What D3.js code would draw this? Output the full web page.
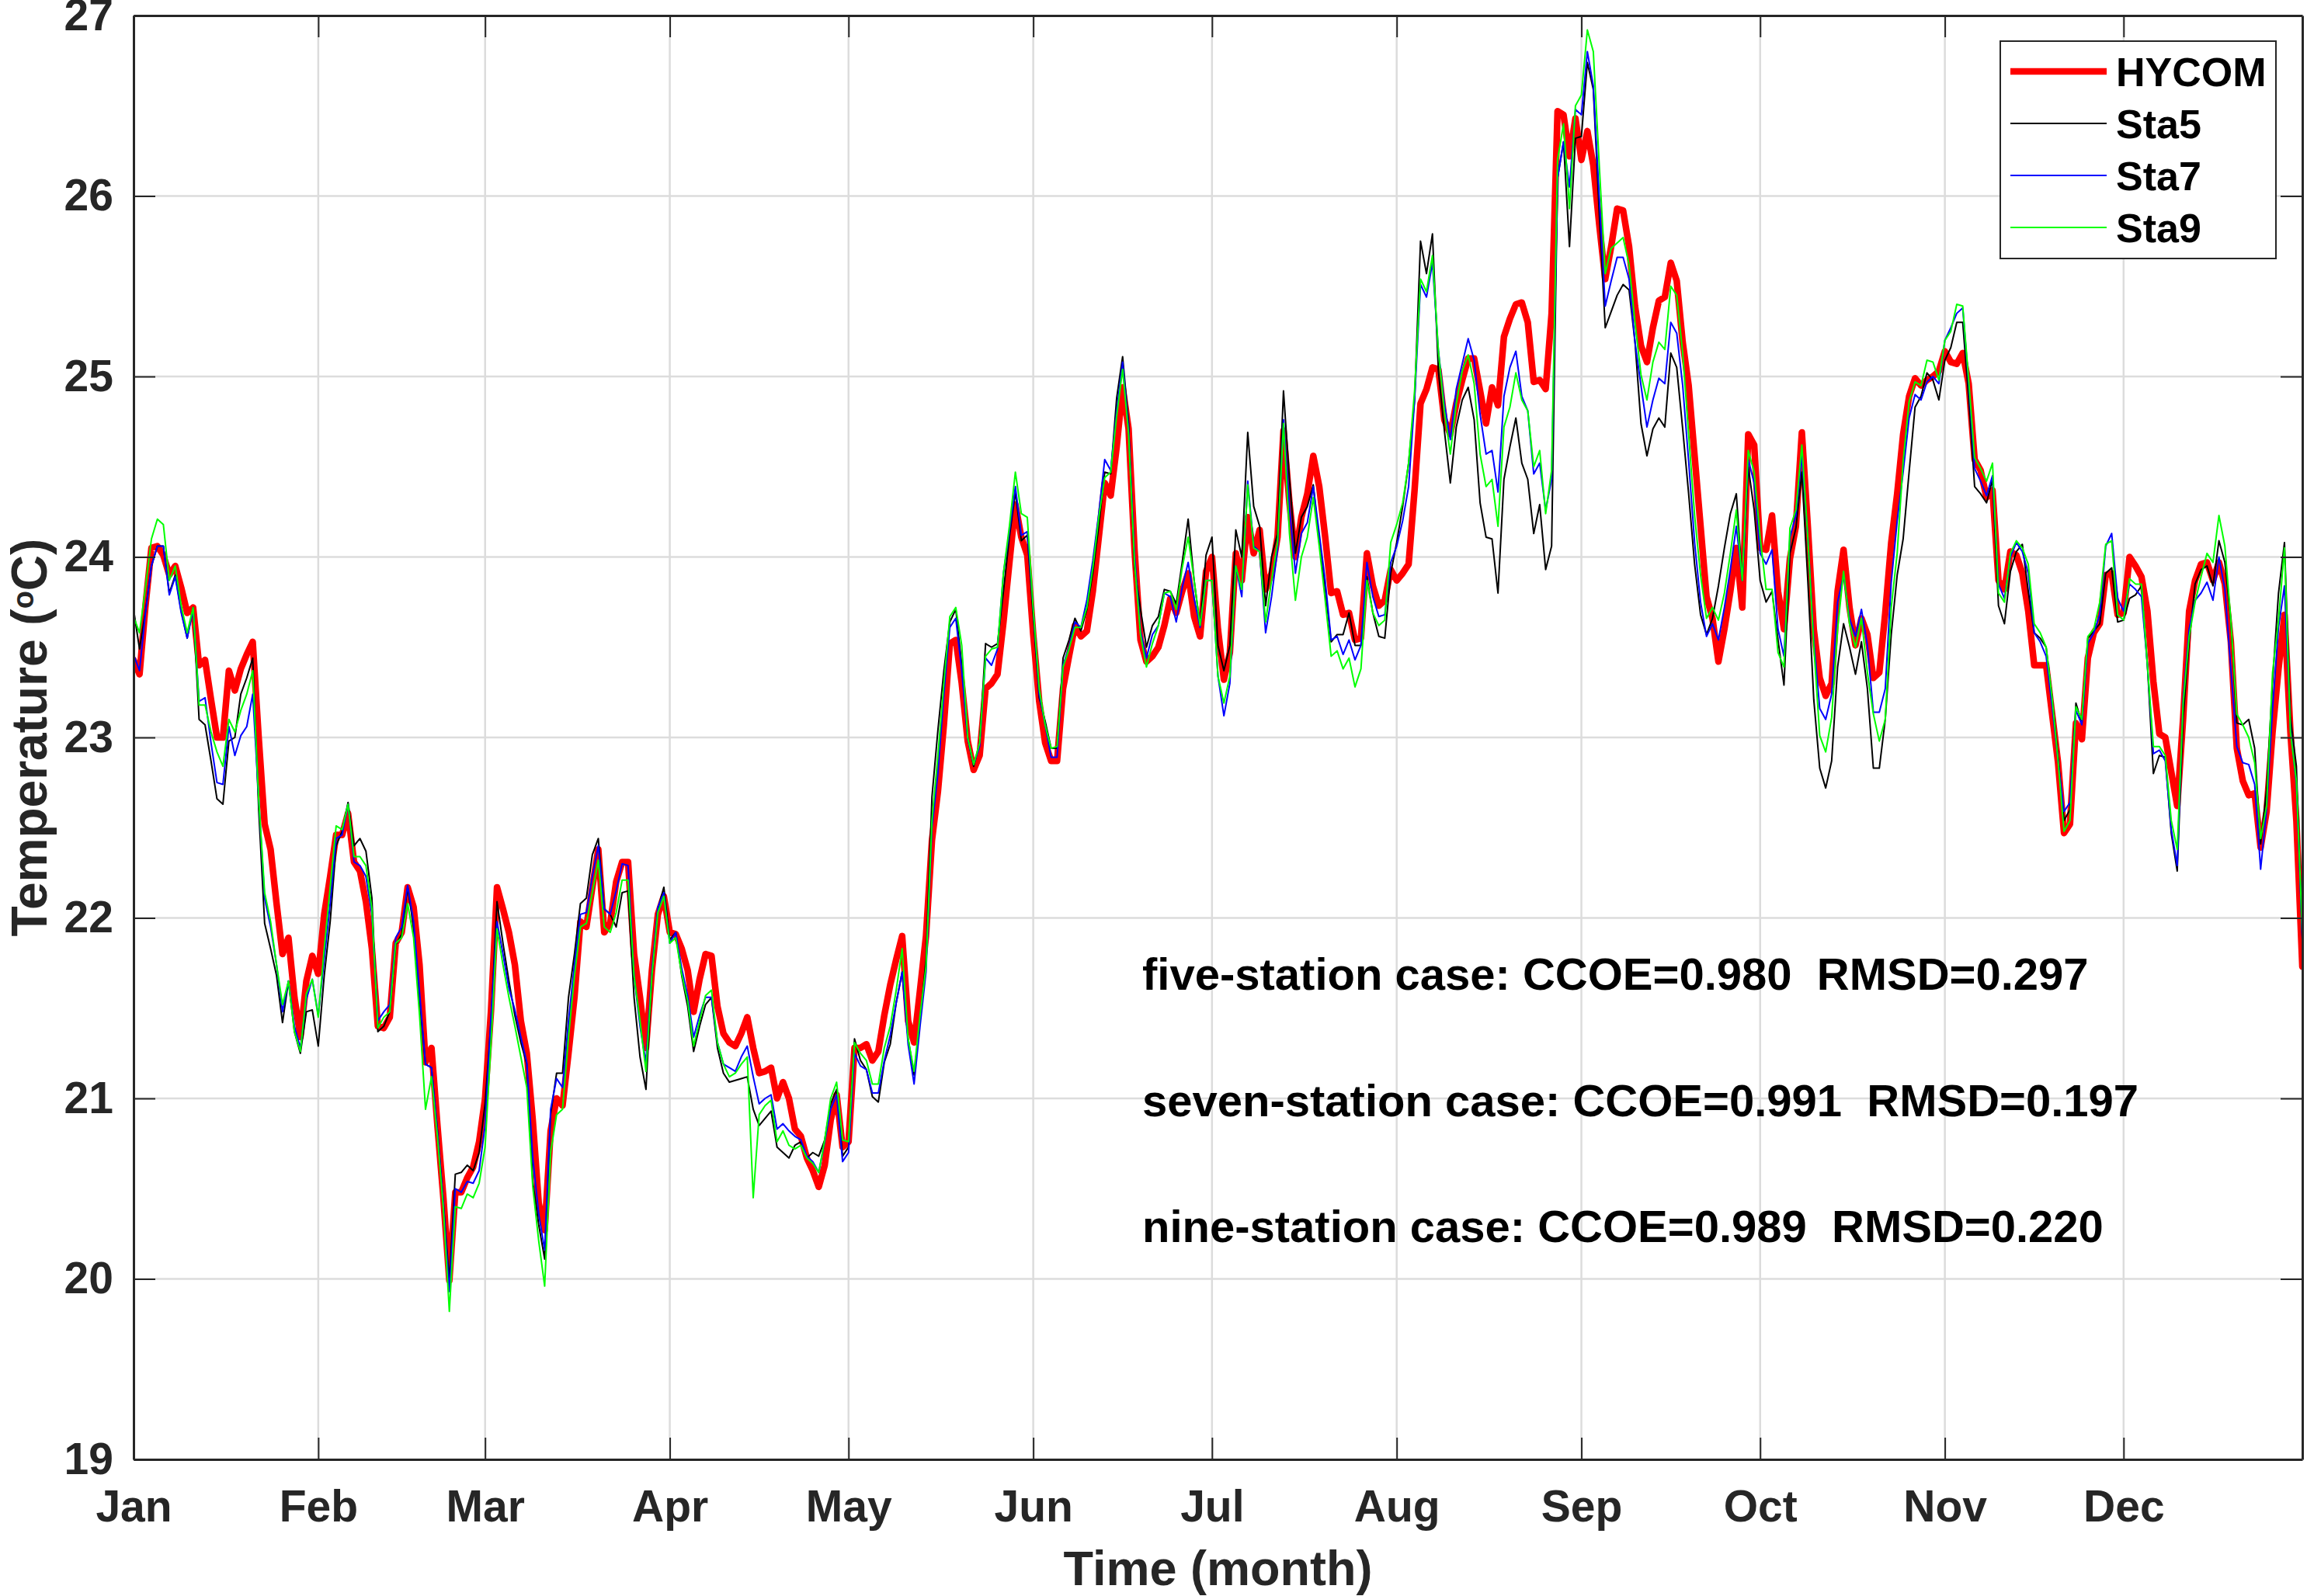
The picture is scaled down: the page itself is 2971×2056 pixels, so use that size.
<!DOCTYPE html>
<html>
<head>
<meta charset="utf-8">
<script src="https://cdn.jsdelivr.net/npm/d3@7"></script>
<style>
  html, body { margin: 0; padding: 0; background: #fff; }
  svg { display: block; font-family: 'Liberation Sans', Arial, Helvetica, sans-serif; font-weight: bold; }
</style>
</head>
<body>
<svg id="chart" width="2971" height="2056"></svg>
<script>
// month ticks (day of year) and labels
var months = ['Jan', 'Feb', 'Mar', 'Apr', 'May', 'Jun', 'Jul', 'Aug', 'Sep', 'Oct', 'Nov', 'Dec']
var monthStart = [0, 31, 59, 90, 120, 151, 181, 212, 243, 273, 304, 334]
var yTicks = [19, 20, 21, 22, 23, 24, 25, 26, 27]

var seriesNames = ['HYCOM', 'Sta5', 'Sta7', 'Sta9']
var seriesColors = ['#ff0000', '#000000', '#0000ff', '#00ff00']

// daily temperature (day 0 = Jan 1)
var hycom = [
  23.43, 23.35, 23.73, 24.05, 24.06, 24.01, 23.90, 23.95, 23.83, 23.69,
  23.72, 23.40, 23.43, 23.21, 23.00, 23.00, 23.37, 23.26, 23.38, 23.46,
  23.53, 23.00, 22.52, 22.38, 22.08, 21.80, 21.89, 21.56, 21.34, 21.65,
  21.79, 21.69, 22.02, 22.23, 22.46, 22.46, 22.58, 22.31, 22.26, 22.09,
  21.83, 21.40, 21.39, 21.45, 21.86, 21.92, 22.17, 22.06, 21.74, 21.20,
  21.28, 20.85, 20.45, 19.99, 20.48, 20.48, 20.56, 20.62, 20.76, 21.00,
  21.49, 22.17, 22.05, 21.92, 21.74, 21.43, 21.25, 20.88, 20.42, 20.27,
  20.82, 21.00, 20.96, 21.25, 21.56, 21.98, 21.95, 22.17, 22.38, 21.92,
  21.97, 22.20, 22.31, 22.31, 21.80, 21.56, 21.28, 21.71, 22.02, 22.12,
  21.92, 21.91, 21.83, 21.71, 21.48, 21.66, 21.80, 21.79, 21.51, 21.36,
  21.31, 21.29, 21.36, 21.45, 21.28, 21.14, 21.15, 21.17, 21.00, 21.09,
  21.00, 20.83, 20.79, 20.67, 20.60, 20.51, 20.63, 20.88, 21.02, 20.73,
  20.76, 21.28, 21.28, 21.30, 21.21, 21.26, 21.46, 21.63, 21.77, 21.90,
  21.43, 21.31, 21.60, 21.90, 22.43, 22.70, 23.07, 23.52, 23.54, 23.30,
  22.98, 22.82, 22.90, 23.27, 23.30, 23.35, 23.64, 23.97, 24.29, 24.11,
  24.01, 23.57, 23.20, 22.97, 22.87, 22.87, 23.27, 23.45, 23.62, 23.56,
  23.59, 23.81, 24.11, 24.41, 24.34, 24.61, 24.94, 24.71, 24.04, 23.54,
  23.42, 23.45, 23.50, 23.62, 23.77, 23.69, 23.81, 23.91, 23.67, 23.56,
  23.92, 24.00, 23.60, 23.32, 23.47, 24.02, 23.87, 24.22, 24.02, 24.15,
  23.82, 23.91, 24.11, 24.70, 24.30, 24.00, 24.22, 24.35, 24.56, 24.39,
  24.11, 23.80, 23.81, 23.68, 23.69, 23.54, 23.55, 24.02, 23.84, 23.73,
  23.76, 23.93, 23.87, 23.91, 23.96, 24.37, 24.85, 24.93, 25.05, 25.04,
  24.76, 24.68, 24.85, 24.98, 25.10, 25.10, 24.92, 24.74, 24.94, 24.84,
  25.22, 25.32, 25.40, 25.41, 25.30, 24.97, 24.98, 24.93, 25.35, 26.47,
  26.45, 26.22, 26.43, 26.20, 26.36, 26.17, 25.84, 25.54, 25.72, 25.93,
  25.92, 25.72, 25.39, 25.17, 25.08, 25.27, 25.42, 25.44, 25.63, 25.53,
  25.19, 24.95, 24.56, 24.17, 23.78, 23.66, 23.42, 23.60, 23.81, 24.05,
  23.72, 24.68, 24.62, 24.05, 24.04, 24.23, 23.81, 23.60, 23.99, 24.17,
  24.69, 24.17, 23.60, 23.33, 23.23, 23.30, 23.81, 24.04, 23.72, 23.51,
  23.66, 23.57, 23.33, 23.36, 23.69, 24.08, 24.35, 24.68, 24.89, 24.99,
  24.95, 24.98, 25.00, 25.03, 25.14, 25.08, 25.07, 25.13, 24.96, 24.54,
  24.48, 24.33, 24.37, 23.87, 23.82, 24.03, 24.01, 23.91, 23.70, 23.40,
  23.40, 23.40, 23.13, 22.86, 22.47, 22.52, 23.08, 22.99, 23.44, 23.58,
  23.63, 23.90, 23.91, 23.68, 23.69, 24.00, 23.95, 23.89, 23.70, 23.31,
  23.02, 23.00, 22.81, 22.62, 23.11, 23.70, 23.87, 23.96, 23.97, 23.87,
  23.97, 23.85, 23.53, 22.94, 22.76, 22.68, 22.69, 22.39, 22.59, 23.03,
  23.38, 23.68, 23.03, 22.54, 21.73
]

var sta5 = [
  23.71, 23.49, 23.70, 23.95, 24.06, 24.06, 23.80, 23.90, 23.70, 23.55,
  23.72, 23.10, 23.07, 22.87, 22.66, 22.63, 22.98, 23.00, 23.24, 23.33,
  23.44, 22.60, 21.97, 21.83, 21.68, 21.42, 21.65, 21.37, 21.25, 21.48,
  21.49, 21.29, 21.68, 21.98, 22.40, 22.48, 22.64, 22.40, 22.44, 22.37,
  22.11, 21.37, 21.40, 21.48, 21.85, 21.91, 22.17, 21.95, 21.55, 21.19,
  21.17, 20.82, 20.42, 19.99, 20.58, 20.59, 20.63, 20.60, 20.70, 20.97,
  21.43, 22.09, 21.86, 21.65, 21.46, 21.31, 21.19, 20.54, 20.30, 20.11,
  20.91, 21.14, 21.14, 21.56, 21.80, 22.08, 22.11, 22.35, 22.44, 22.05,
  22.02, 21.95, 22.14, 22.15, 21.56, 21.23, 21.05, 21.68, 22.05, 22.17,
  21.88, 21.92, 21.68, 21.51, 21.26, 21.40, 21.52, 21.56, 21.28, 21.14,
  21.09, 21.10, 21.11, 21.12, 20.94, 20.85, 20.89, 20.93, 20.73, 20.70,
  20.67, 20.74, 20.76, 20.67, 20.70, 20.68, 20.77, 20.97, 21.05, 20.68,
  20.73, 21.33, 21.21, 21.16, 21.01, 20.98, 21.20, 21.30, 21.53, 21.70,
  21.33, 21.13, 21.43, 21.77, 22.67, 23.04, 23.37, 23.64, 23.71, 23.40,
  23.00, 22.84, 22.97, 23.52, 23.50, 23.52, 23.81, 24.11, 24.36, 24.09,
  24.12, 23.67, 23.22, 23.09, 22.94, 22.94, 23.44, 23.54, 23.66, 23.59,
  23.71, 23.91, 24.17, 24.47, 24.46, 24.88, 25.11, 24.74, 23.94, 23.71,
  23.50, 23.62, 23.67, 23.82, 23.81, 23.74, 23.97, 24.21, 23.87, 23.62,
  24.01, 24.11, 23.51, 23.37, 23.51, 24.15, 24.00, 24.69, 24.28, 24.17,
  23.73, 24.00, 24.13, 24.92, 24.43, 24.02, 24.22, 24.28, 24.40, 24.08,
  23.82, 23.53, 23.57, 23.57, 23.69, 23.51, 23.51, 23.89, 23.69, 23.56,
  23.55, 23.91, 24.08, 24.28, 24.52, 24.87, 25.75, 25.57, 25.79, 25.03,
  24.70, 24.41, 24.72, 24.87, 24.94, 24.76, 24.30, 24.11, 24.10, 23.80,
  24.43, 24.61, 24.77, 24.52, 24.43, 24.13, 24.29, 23.93, 24.06, 26.10,
  26.30, 25.72, 26.32, 26.33, 26.74, 26.59, 25.90, 25.27, 25.36, 25.45,
  25.51, 25.48, 25.19, 24.74, 24.56, 24.71, 24.77, 24.72, 25.13, 25.05,
  24.71, 24.35, 23.96, 23.68, 23.57, 23.66, 23.84, 24.05, 24.24, 24.35,
  23.87, 24.50, 24.26, 23.87, 23.75, 23.81, 23.54, 23.29, 24.02, 24.16,
  24.47, 23.87, 23.21, 22.83, 22.72, 22.87, 23.39, 23.63, 23.50, 23.35,
  23.53, 23.27, 22.83, 22.83, 23.10, 23.57, 23.90, 24.10, 24.47, 24.83,
  24.89, 25.02, 24.98, 24.87, 25.09, 25.16, 25.30, 25.30, 24.88, 24.39,
  24.35, 24.30, 24.43, 23.73, 23.63, 23.92, 24.03, 24.07, 23.81, 23.58,
  23.55, 23.50, 23.22, 22.89, 22.54, 22.60, 23.19, 23.08, 23.55, 23.59,
  23.63, 23.91, 23.94, 23.64, 23.65, 23.77, 23.79, 23.84, 23.40, 22.80,
  22.90, 22.89, 22.47, 22.26, 23.11, 23.53, 23.85, 23.93, 23.95, 23.84,
  24.09, 23.97, 23.65, 23.08, 23.07, 23.10, 22.94, 22.41, 22.71, 23.31,
  23.80, 24.08, 23.11, 22.84, 21.88
]

var sta7 = [
  23.46, 23.37, 23.69, 23.95, 24.06, 24.06, 23.79, 23.89, 23.69, 23.55,
  23.71, 23.20, 23.22, 22.97, 22.75, 22.74, 23.06, 22.90, 23.01, 23.06,
  23.24, 22.66, 22.11, 21.95, 21.74, 21.48, 21.65, 21.40, 21.28, 21.55,
  21.66, 21.46, 21.77, 22.08, 22.44, 22.46, 22.63, 22.31, 22.29, 22.23,
  22.02, 21.43, 21.48, 21.52, 21.89, 21.95, 22.18, 21.98, 21.59, 21.19,
  21.17, 20.82, 20.42, 19.93, 20.50, 20.48, 20.54, 20.53, 20.60, 20.85,
  21.46, 21.98, 21.80, 21.61, 21.49, 21.34, 21.20, 20.67, 20.36, 20.16,
  20.94, 21.11, 21.06, 21.43, 21.74, 22.02, 22.03, 22.23, 22.40, 22.05,
  22.02, 22.15, 22.30, 22.29, 21.68, 21.40, 21.20, 21.71, 22.06, 22.14,
  21.86, 21.92, 21.72, 21.57, 21.34, 21.46, 21.56, 21.56, 21.31, 21.19,
  21.17, 21.15, 21.23, 21.29, 21.12, 20.97, 21.00, 21.02, 20.83, 20.86,
  20.82, 20.79, 20.77, 20.68, 20.65, 20.59, 20.76, 20.94, 21.02, 20.65,
  20.70, 21.25, 21.18, 21.16, 21.03, 21.03, 21.21, 21.35, 21.53, 21.70,
  21.30, 21.08, 21.40, 21.70, 22.50, 22.80, 23.24, 23.61, 23.66, 23.37,
  22.99, 22.85, 22.95, 23.44, 23.40, 23.49, 23.91, 24.14, 24.39, 24.12,
  24.14, 23.71, 23.24, 23.07, 22.89, 22.89, 23.40, 23.50, 23.64, 23.61,
  23.76, 23.98, 24.24, 24.54, 24.48, 24.81, 25.08, 24.71, 24.01, 23.59,
  23.44, 23.57, 23.62, 23.80, 23.78, 23.64, 23.83, 23.97, 23.77, 23.61,
  23.87, 23.87, 23.34, 23.12, 23.30, 23.95, 23.78, 24.42, 24.06, 24.03,
  23.58, 23.78, 24.04, 24.76, 24.28, 23.91, 24.13, 24.19, 24.39, 24.13,
  23.87, 23.54, 23.56, 23.46, 23.54, 23.43, 23.51, 23.97, 23.78, 23.67,
  23.68, 23.97, 24.06, 24.20, 24.39, 24.87, 25.51, 25.44, 25.63, 25.14,
  24.85, 24.65, 24.93, 25.07, 25.21, 25.09, 24.79, 24.57, 24.59, 24.36,
  24.89, 25.05, 25.14, 24.89, 24.81, 24.46, 24.52, 24.26, 24.43, 26.10,
  26.30, 26.05, 26.48, 26.45, 26.80, 26.61, 25.99, 25.39, 25.53, 25.66,
  25.66, 25.54, 25.19, 24.95, 24.72, 24.87, 24.99, 24.96, 25.30, 25.24,
  24.95, 24.53, 24.08, 23.75, 23.56, 23.63, 23.54, 23.72, 23.93, 24.17,
  23.87, 24.54, 24.41, 24.02, 23.96, 24.04, 23.60, 23.45, 24.11, 24.23,
  24.56, 24.11, 23.54, 23.16, 23.10, 23.24, 23.75, 23.90, 23.66, 23.56,
  23.71, 23.51, 23.14, 23.14, 23.27, 23.86, 24.20, 24.47, 24.77, 24.90,
  24.87, 24.97, 25.00, 24.96, 25.20, 25.27, 25.35, 25.38, 24.96, 24.49,
  24.42, 24.34, 24.45, 23.85, 23.77, 24.00, 24.08, 24.03, 23.91, 23.58,
  23.53, 23.45, 23.17, 22.87, 22.59, 22.64, 23.15, 23.07, 23.52, 23.58,
  23.68, 24.06, 24.13, 23.77, 23.70, 23.85, 23.82, 23.78, 23.40, 22.91,
  22.93, 22.87, 22.49, 22.29, 23.22, 23.60, 23.76, 23.80, 23.86, 23.76,
  24.00, 23.82, 23.38, 22.95, 22.86, 22.85, 22.74, 22.27, 22.60, 23.16,
  23.61, 23.84, 23.05, 22.74, 21.88
]

var sta9 = [
  23.67, 23.58, 23.83, 24.10, 24.21, 24.18, 23.87, 23.95, 23.73, 23.58,
  23.72, 23.18, 23.18, 23.03, 22.92, 22.84, 23.10, 23.03, 23.15, 23.24,
  23.37, 22.66, 22.14, 21.98, 21.74, 21.52, 21.65, 21.37, 21.26, 21.58,
  21.66, 21.45, 21.83, 22.17, 22.51, 22.49, 22.63, 22.34, 22.34, 22.29,
  22.05, 21.39, 21.45, 21.48, 21.86, 21.89, 22.08, 21.89, 21.46, 20.94,
  21.12, 20.79, 20.39, 19.82, 20.40, 20.39, 20.47, 20.45, 20.53, 20.73,
  21.31, 21.94, 21.74, 21.56, 21.40, 21.23, 21.06, 20.51, 20.21, 19.96,
  20.70, 20.91, 20.94, 21.34, 21.68, 21.95, 21.97, 22.14, 22.32, 21.95,
  21.92, 22.03, 22.21, 22.21, 21.68, 21.43, 21.15, 21.68, 22.03, 22.12,
  21.86, 21.89, 21.69, 21.54, 21.29, 21.43, 21.57, 21.60, 21.31, 21.19,
  21.12, 21.14, 21.19, 21.23, 20.45, 20.91, 20.96, 20.99, 20.76, 20.82,
  20.74, 20.72, 20.74, 20.67, 20.64, 20.59, 20.77, 21.00, 21.09, 20.77,
  20.76, 21.31, 21.25, 21.21, 21.08, 21.08, 21.28, 21.40, 21.60, 21.83,
  21.33, 21.15, 21.46, 21.73, 22.54, 22.90, 23.30, 23.67, 23.72, 23.51,
  23.00, 22.85, 22.97, 23.45, 23.49, 23.50, 23.91, 24.17, 24.47, 24.24,
  24.22, 23.71, 23.27, 23.07, 22.94, 22.95, 23.39, 23.49, 23.61, 23.61,
  23.72, 23.94, 24.22, 24.44, 24.47, 24.78, 25.04, 24.68, 23.97, 23.57,
  23.39, 23.52, 23.62, 23.80, 23.81, 23.71, 23.94, 24.11, 23.87, 23.62,
  23.87, 23.87, 23.34, 23.19, 23.34, 23.95, 23.82, 24.40, 24.05, 24.03,
  23.64, 23.87, 24.08, 24.74, 24.13, 23.76, 24.00, 24.11, 24.33, 24.06,
  23.76, 23.45, 23.48, 23.38, 23.44, 23.28, 23.38, 23.87, 23.69, 23.62,
  23.65, 24.08, 24.18, 24.30, 24.52, 24.92, 25.54, 25.47, 25.67, 25.14,
  24.81, 24.57, 24.85, 25.03, 25.12, 24.96, 24.57, 24.39, 24.43, 24.17,
  24.72, 24.83, 25.02, 24.87, 24.81, 24.50, 24.59, 24.24, 24.48, 26.20,
  26.40, 25.93, 26.50, 26.56, 26.92, 26.80, 26.17, 25.57, 25.71, 25.74,
  25.77, 25.62, 25.30, 25.01, 24.87, 25.08, 25.19, 25.15, 25.50, 25.45,
  25.13, 24.68, 24.23, 23.90, 23.66, 23.72, 23.65, 23.80, 24.02, 24.26,
  23.87, 24.59, 24.47, 24.11, 23.82, 23.82, 23.47, 23.39, 24.16, 24.26,
  24.62, 24.11, 23.51, 23.01, 22.92, 23.11, 23.60, 23.92, 23.63, 23.50,
  23.66, 23.36, 23.13, 22.98, 23.10, 23.72, 24.02, 24.53, 24.86, 24.97,
  24.95, 25.09, 25.08, 24.98, 25.20, 25.25, 25.40, 25.39, 24.98, 24.55,
  24.49, 24.42, 24.52, 23.80, 23.75, 24.02, 24.09, 24.05, 23.96, 23.63,
  23.58, 23.50, 23.22, 22.87, 22.48, 22.54, 23.17, 23.10, 23.56, 23.60,
  23.75, 24.07, 24.09, 23.68, 23.65, 23.88, 23.85, 23.85, 23.40, 22.95,
  22.95, 22.90, 22.54, 22.38, 23.19, 23.56, 23.75, 23.89, 24.02, 23.97,
  24.23, 24.06, 23.65, 23.13, 23.07, 23.00, 22.86, 22.44, 22.62, 23.36,
  23.65, 24.05, 23.03, 22.76, 21.92
]

var statLines = [
  'five-station case: CCOE=0.980  RMSD=0.297',
  'seven-station case: CCOE=0.991  RMSD=0.197',
  'nine-station case: CCOE=0.989  RMSD=0.220'
]

var allSeries = [hycom, sta5, sta7, sta9]
var lineWidths = [8.5, 2, 2, 2]

// Set the dimensions of the canvas / graph
var margin = {top: 20, right: 6, bottom: 176, left: 172}
var width = 2971 - margin.left - margin.right
var height = 2056 - margin.top - margin.bottom
var axisColor = '#262626'

var svg = d3.select('#chart')
var g = svg.append('g')
  .attr('transform', 'translate(' + margin.left + ',' + margin.top + ')')

// scales
var x = d3.scaleLinear().domain([0, 364]).range([0, width])
var y = d3.scaleLinear().domain([19, 27]).range([height, 0])

// grid lines
g.append('g').selectAll('line.vg')
  .data(monthStart.slice(1))
  .enter().append('line')
  .attr('x1', function (d) { return x(d) })
  .attr('x2', function (d) { return x(d) })
  .attr('y1', 0)
  .attr('y2', height)
  .attr('stroke', '#dcdcdc')
  .attr('stroke-width', 2.5)

g.append('g').selectAll('line.hg')
  .data(yTicks.slice(1, -1))
  .enter().append('line')
  .attr('x1', 0)
  .attr('x2', width)
  .attr('y1', function (d) { return y(d) })
  .attr('y2', function (d) { return y(d) })
  .attr('stroke', '#dcdcdc')
  .attr('stroke-width', 2.5)

// clip for the series
svg.append('defs').append('clipPath')
  .attr('id', 'plotclip')
  .append('rect')
  .attr('width', width)
  .attr('height', height)

var lineGen = d3.line()
  .x(function (d, i) { return x(i) })
  .y(function (d) { return y(d) })

var linesG = g.append('g').attr('clip-path', 'url(#plotclip)')
allSeries.forEach(function (s, k) {
  linesG.append('path')
    .attr('d', lineGen(s))
    .attr('fill', 'none')
    .attr('stroke', seriesColors[k])
    .attr('stroke-width', lineWidths[k])
    .attr('stroke-linejoin', 'round')
    .attr('stroke-linecap', 'round')
})

// axes, ticks pointing inward on all four sides
var xAxisG = g.append('g')
  .attr('transform', 'translate(0,' + height + ')')
  .call(d3.axisBottom(x)
    .tickValues(monthStart)
    .tickFormat(function (d, i) { return months[i] })
    .tickSizeInner(-28).tickSizeOuter(0).tickPadding(40))

var yAxisG = g.append('g')
  .call(d3.axisLeft(y)
    .tickValues(yTicks)
    .tickFormat(d3.format('d'))
    .tickSizeInner(-28).tickSizeOuter(0).tickPadding(26))

var topAxisG = g.append('g')
  .call(d3.axisTop(x).tickValues(monthStart).tickFormat('')
    .tickSizeInner(-28).tickSizeOuter(0))

var rightAxisG = g.append('g')
  .attr('transform', 'translate(' + width + ',0)')
  .call(d3.axisRight(y).tickValues(yTicks).tickFormat('')
    .tickSizeInner(-28).tickSizeOuter(0))

;[xAxisG, yAxisG, topAxisG, rightAxisG].forEach(function (a) {
  a.select('.domain').attr('stroke', axisColor).attr('stroke-width', 3)
  a.selectAll('.tick line').attr('stroke', axisColor).attr('stroke-width', 2)
  a.selectAll('.tick text')
    .attr('fill', axisColor)
    .style('font-size', '57px')
    .style('font-weight', 'bold')
    .style('font-family', "'Liberation Sans', Arial, sans-serif")
})

// axis titles
svg.append('text')
  .attr('x', margin.left + width / 2)
  .attr('y', 2042)
  .attr('text-anchor', 'middle')
  .attr('fill', axisColor)
  .style('font-size', '63px')
  .text('Time (month)')

var yTitle = svg.append('text')
  .attr('transform', 'translate(60,' + (margin.top + height / 2) + ') rotate(-90)')
  .attr('text-anchor', 'middle')
  .attr('fill', axisColor)
  .style('font-size', '64px')
yTitle.append('tspan').text('Temperature (')
yTitle.append('tspan').attr('baseline-shift', '45%').style('font-size', '38px').text('o')
yTitle.append('tspan').text('C)')

// correlation / RMSD annotations
svg.append('g').selectAll('text')
  .data(statLines)
  .enter().append('text')
  .attr('x', 1471)
  .attr('y', function (d, i) { return 1275 + i * 162.5 })
  .attr('fill', '#000')
  .attr('xml:space', 'preserve')
  .style('white-space', 'pre')
  .style('font-size', '58px')
  .text(function (d) { return d })

// legend
var legend = svg.append('g').attr('transform', 'translate(2576,53)')
legend.append('rect')
  .attr('width', 355)
  .attr('height', 280)
  .attr('fill', '#fff')
  .attr('stroke', axisColor)
  .attr('stroke-width', 2)

var items = legend.selectAll('g.item')
  .data(seriesNames)
  .enter().append('g')
  .attr('transform', function (d, i) { return 'translate(0,' + (39 + i * 67) + ')' })

items.append('line')
  .attr('x1', 13)
  .attr('x2', 137)
  .attr('stroke', function (d, i) { return seriesColors[i] })
  .attr('stroke-width', function (d, i) { return lineWidths[i] })

items.append('text')
  .attr('x', 149)
  .attr('y', 19)
  .attr('fill', '#000')
  .style('font-size', '52px')
  .text(function (d) { return d })
</script>
</body>
</html>
